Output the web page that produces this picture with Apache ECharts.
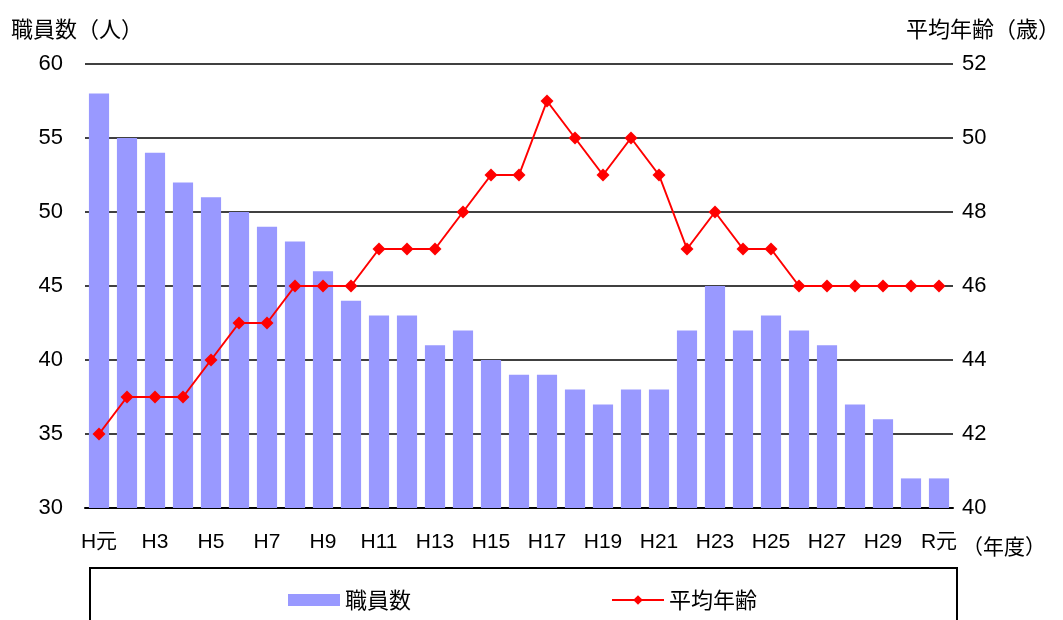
<!DOCTYPE html>
<html>
<head>
<meta charset="utf-8">
<script src="https://cdn.jsdelivr.net/npm/echarts@6/dist/echarts.min.js"></script>
<style>
  html, body { margin: 0; padding: 0; background: #fff; }
  #main { width: 1063px; height: 620px; }
</style>
</head>
<body>
<div id="main"></div>
<script>
// 年度
var years = ['H元', 'H2', 'H3', 'H4', 'H5', 'H6', 'H7', 'H8', 'H9', 'H10',
  'H11', 'H12', 'H13', 'H14', 'H15', 'H16', 'H17', 'H18', 'H19', 'H20',
  'H21', 'H22', 'H23', 'H24', 'H25', 'H26', 'H27', 'H28', 'H29', 'H30', 'R元']
// 職員数(人)
var staffCount = [58, 55, 54, 52, 51, 50, 49, 48, 46, 44,
  43, 43, 41, 42, 40, 39, 39, 38, 37, 38,
  38, 42, 45, 42, 43, 42, 41, 37, 36, 32, 32]
// 平均年齢(歳)
var avgAge = [42, 43, 43, 43, 44, 45, 45, 46, 46, 46,
  47, 47, 47, 48, 49, 49, 51, 50, 49, 50,
  49, 47, 48, 47, 47, 46, 46, 46, 46, 46, 46]

var font = '"Liberation Sans", "Noto Sans CJK JP", sans-serif'
var cjk = '"Noto Sans CJK JP", sans-serif'

window.onload = function () {
  var chart = echarts.init(document.getElementById('main'))
  var option = {
    animation: false,
    textStyle: { fontFamily: font, color: '#000' },
    grid: { left: 85, right: 110, top: 64, bottom: 112 },
    legend: {
      top: 584,
      left: 283,
      itemGap: 200,
      itemWidth: 52,
      itemHeight: 12,
      textStyle: { fontSize: 22, color: '#000', fontFamily: cjk },
      data: [
        { name: '職員数', icon: 'rect' },
        { name: '平均年齢' }
      ]
    },
    graphic: [
      {
        type: 'rect',
        shape: { x: 90, y: 568, width: 867, height: 70 },
        style: { fill: 'none', stroke: '#000', lineWidth: 2 }
      },
      {
        type: 'text',
        left: 11, top: 18,
        style: { text: '職員数（人）', font: '22px ' + cjk, fill: '#000' }
      },
      {
        type: 'text',
        left: 906, top: 18,
        style: { text: '平均年齢（歳）', font: '22px ' + cjk, fill: '#000' }
      },
      {
        type: 'text',
        left: 962, top: 536,
        style: { text: '（年度）', font: '21px ' + cjk, fill: '#000' }
      }
    ],
    xAxis: {
      type: 'category',
      data: years,
      axisLine: { lineStyle: { color: '#000', width: 2 } },
      axisTick: { inside: true, length: 6, lineStyle: { color: '#000', width: 1.5 } },
      axisLabel: { interval: 1, fontSize: 21, color: '#000', margin: 24 }
    },
    yAxis: [
      {
        type: 'value',
        min: 30, max: 60, interval: 5,
        axisLine: { show: false },
        axisTick: { show: false },
        axisLabel: { fontSize: 22, color: '#000', margin: 22 },
        splitLine: { lineStyle: { color: '#000', width: 1.5 } }
      },
      {
        type: 'value',
        min: 40, max: 52, interval: 2,
        axisLine: { show: false },
        axisTick: { show: false },
        axisLabel: { fontSize: 22, color: '#000', margin: 9 },
        splitLine: { show: false }
      }
    ],
    series: [
      {
        name: '職員数',
        type: 'bar',
        data: staffCount,
        barCategoryGap: '28%',
        itemStyle: { color: '#9999FF' }
      },
      {
        name: '平均年齢',
        type: 'line',
        yAxisIndex: 1,
        data: avgAge,
        symbol: 'diamond',
        symbolSize: 13,
        lineStyle: { color: '#FF0000', width: 2 },
        itemStyle: { color: '#FF0000' }
      }
    ]
  }
  chart.setOption(option)
}
</script>
</body>
</html>
